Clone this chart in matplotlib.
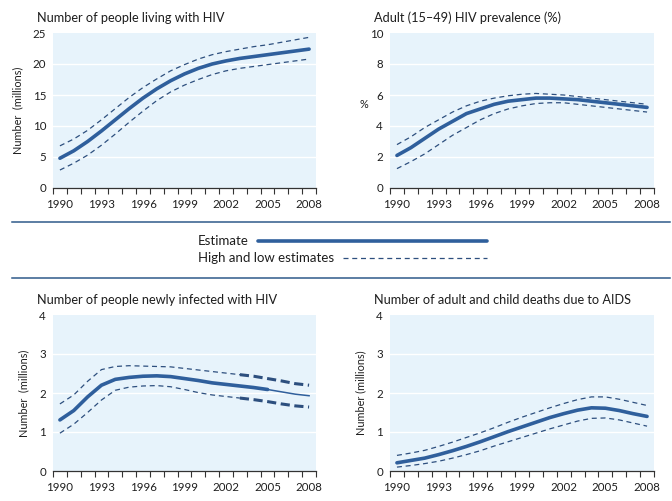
import matplotlib
matplotlib.use("Agg")
import matplotlib.pyplot as plt
import numpy as np
from matplotlib.lines import Line2D

plt.rcParams['font.family'] = ['Lato', 'DejaVu Sans']

years = list(range(1990, 2009))

# Number of people living with HIV (millions)
living_est = [4.8, 6.0, 7.5, 9.2, 11.0, 12.8, 14.5, 16.0, 17.3, 18.4, 19.3, 20.0,
              20.5, 20.9, 21.2, 21.5, 21.8, 22.1, 22.4]
living_hi = [6.8, 7.9, 9.3, 11.0, 12.8, 14.6, 16.2, 17.6, 18.9, 19.9, 20.8, 21.5,
             22.0, 22.4, 22.8, 23.1, 23.5, 23.9, 24.3]
living_lo = [2.9, 4.0, 5.3, 6.9, 8.7, 10.6, 12.4, 14.1, 15.5, 16.6, 17.5, 18.3,
             18.9, 19.3, 19.6, 19.9, 20.2, 20.5, 20.8]

# Adult (15-49) HIV prevalence (%)
prev_est = [2.1, 2.6, 3.2, 3.8, 4.3, 4.8, 5.1, 5.4, 5.6, 5.7, 5.8, 5.8,
            5.75, 5.7, 5.6, 5.5, 5.4, 5.3, 5.2]
prev_hi = [2.8, 3.3, 3.9, 4.4, 4.9, 5.3, 5.6, 5.8, 5.95, 6.05, 6.1, 6.05,
           6.0, 5.9, 5.8, 5.7, 5.6, 5.5, 5.4]
prev_lo = [1.25, 1.7, 2.2, 2.8, 3.4, 3.9, 4.4, 4.8, 5.1, 5.3, 5.45, 5.5,
           5.5, 5.4, 5.3, 5.2, 5.1, 5.0, 4.9]

# Newly infected (millions)
new_est = [1.31, 1.55, 1.9, 2.2, 2.35, 2.4, 2.43, 2.44, 2.42, 2.37, 2.32, 2.26,
           2.22, 2.18, 2.14, 2.09, 2.03, 1.97, 1.93]
new_hi = [1.72, 1.95, 2.3, 2.6, 2.68, 2.7, 2.69, 2.68, 2.67, 2.63, 2.59, 2.55,
          2.51, 2.47, 2.43, 2.37, 2.31, 2.24, 2.2]
new_lo = [0.97, 1.2, 1.5, 1.82, 2.07, 2.15, 2.18, 2.19, 2.16, 2.09, 2.01, 1.95,
          1.91, 1.87, 1.83, 1.78, 1.72, 1.67, 1.64]

# Deaths due to AIDS (millions)
death_est = [0.21, 0.27, 0.33, 0.42, 0.52, 0.63, 0.75, 0.88, 1.01, 1.13, 1.25, 1.37,
             1.47, 1.56, 1.62, 1.61, 1.55, 1.47, 1.4]
death_hi = [0.4, 0.46, 0.53, 0.63, 0.74, 0.86, 0.98, 1.11, 1.25, 1.38, 1.5, 1.62,
            1.73, 1.83, 1.9, 1.9, 1.84, 1.76, 1.68]
death_lo = [0.1, 0.14, 0.19, 0.25, 0.33, 0.42, 0.52, 0.64, 0.75, 0.86, 0.97, 1.08,
            1.18, 1.28, 1.35, 1.36, 1.31, 1.23, 1.15]

titles = ["Number of people living with HIV", "Adult (15\u201349) HIV prevalence (%)",
          "Number of people newly infected with HIV",
          "Number of adult and child deaths due to AIDS"]
ylabels = ["Number  (millions)", "%", "Number  (millions)", "Number (millions)"]
year_labels = [1990, 1993, 1996, 1999, 2002, 2005, 2008]

EST = "#2f5f9c"
DASH = "#2d4f7e"
BG = "#e7f3fb"
TXT = "#1e1e1e"
W, H = 672, 501

fig = plt.figure(figsize=(W / 100, H / 100), dpi=100)


def make_ax(left, top, right, bottom):
    return fig.add_axes([left / W, 1 - bottom / H, (right - left) / W, (bottom - top) / H])


def style(ax, title, ylabel, ymax, ystep):
    ax.set_facecolor(BG)
    ax.set_xlim(1989.5, 2008.5)
    ax.set_ylim(0, ymax)
    yt = np.arange(0, ymax + ystep / 2, ystep)
    ax.set_yticks(yt)
    ax.set_yticklabels([f"{v:g}" for v in yt], fontsize=8.3, color=TXT)
    ax.tick_params(axis="y", length=0, pad=5)
    for v in yt[1:-1]:
        ax.axhline(v, color="white", lw=1.0, zorder=1)
    ax.set_xticks(year_labels)
    ax.set_xticklabels([str(y) for y in year_labels], fontsize=8.3, color=TXT)
    ax.set_xticks(np.arange(1989.5, 2009, 1.0), minor=True)
    ax.tick_params(axis="x", which="major", length=0, pad=8)
    ax.tick_params(axis="x", which="minor", length=4, width=0.8, color="#333333", direction="out")
    for s in ["top", "right", "left"]:
        ax.spines[s].set_visible(False)
    ax.spines["bottom"].set_color("#333333")
    ax.spines["bottom"].set_linewidth(0.9)
    ax.set_title(title, loc="left", fontsize=9.2, color=TXT, pad=8, x=-0.06)
    ax.set_ylabel(ylabel, fontsize=7.8, color=TXT, labelpad=7)


def draw(ax, est, hi, lo, thin_from=None):
    if thin_from is None:
        ax.plot(years, est, color=EST, lw=2.6, solid_capstyle="round", zorder=3)
        ax.plot(years, hi, color=DASH, lw=0.9, ls=(0, (4, 3)), zorder=3)
        ax.plot(years, lo, color=DASH, lw=0.9, ls=(0, (4, 3)), zorder=3)
    else:
        i = years.index(thin_from)
        j = years.index(2003)
        ax.plot(years[:i + 1], est[:i + 1], color=EST, lw=2.6, solid_capstyle="round", zorder=3)
        ax.plot(years[i:], est[i:], color=EST, lw=1.1, zorder=3)
        for s in (hi, lo):
            ax.plot(years[:j + 1], s[:j + 1], color=DASH, lw=0.9, ls=(0, (4, 3)), zorder=3)
            ax.plot(years[j:], s[j:], color=DASH, lw=2.2, ls=(0, (3, 1.5)), zorder=3)


ax1 = make_ax(53, 33, 316, 188)
style(ax1, titles[0], ylabels[0], 25, 5)
draw(ax1, living_est, living_hi, living_lo)

ax2 = make_ax(390, 33, 654, 188)
style(ax2, titles[1], ylabels[1], 10, 2)
ax2.yaxis.label.set_rotation(0)
ax2.yaxis.set_label_coords(-0.1, 0.5)
draw(ax2, prev_est, prev_hi, prev_lo)

ax3 = make_ax(53, 315, 316, 471)
style(ax3, titles[2], ylabels[2], 4, 1)
draw(ax3, new_est, new_hi, new_lo, thin_from=2005)

ax4 = make_ax(390, 315, 654, 471)
style(ax4, titles[3], ylabels[3], 4, 1)
draw(ax4, death_est, death_hi, death_lo)

# separator rules and legend
for yy in (222, 278):
    fig.add_artist(Line2D([12 / W, 670 / W], [1 - yy / H, 1 - yy / H], color="#2f5a8a", lw=1.1))

fig.text(198 / W, 1 - 241 / H, "Estimate", fontsize=9.5, va="center", color=TXT)
fig.add_artist(Line2D([258 / W, 487 / W], [1 - 241 / H, 1 - 241 / H], color=EST, lw=2.6,
                      solid_capstyle="round"))
fig.text(198 / W, 1 - 258 / H, "High and low estimates", fontsize=9.5, va="center", color=TXT)
fig.add_artist(Line2D([343 / W, 487 / W], [1 - 258 / H, 1 - 258 / H], color=DASH, lw=0.9,
                      ls=(0, (4, 3))))

fig.savefig("out.png", dpi=100, facecolor="white")
